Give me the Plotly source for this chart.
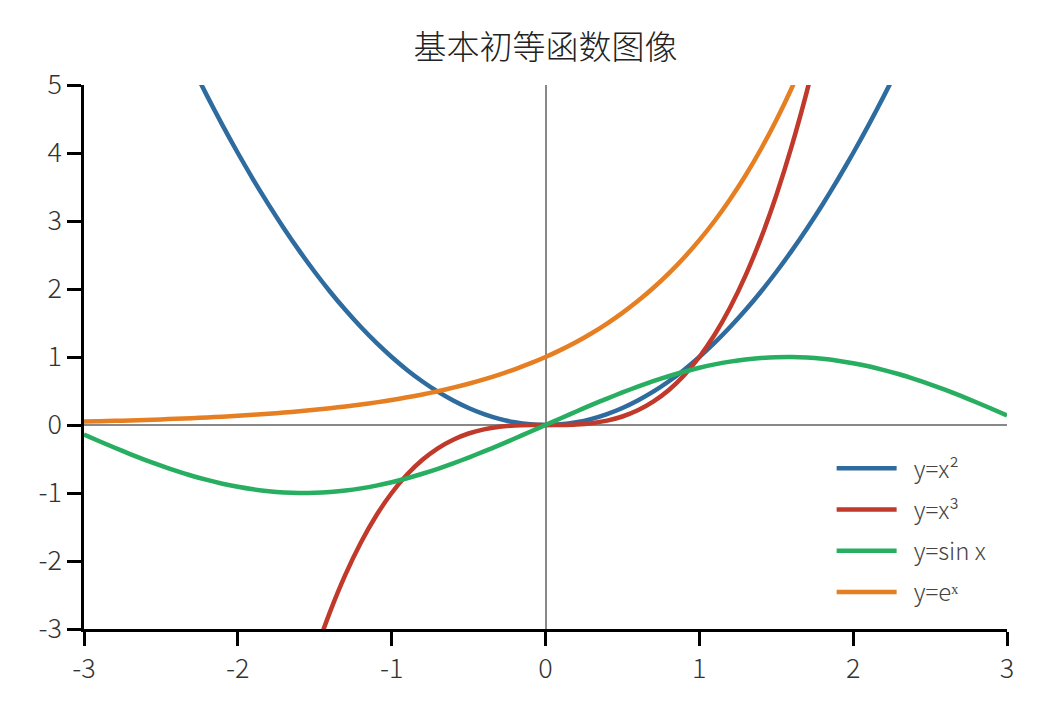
import plotly.graph_objects as go

x_vals = [-3.0, -2.9, -2.8, -2.7, -2.6, -2.5, -2.4, -2.3, -2.2, -2.1,
          -2.0, -1.9, -1.8, -1.7, -1.6, -1.5, -1.4, -1.3, -1.2, -1.1,
          -1.0, -0.9, -0.8, -0.7, -0.6, -0.5, -0.4, -0.3, -0.2, -0.1,
          0.0, 0.1, 0.2, 0.3, 0.4, 0.5, 0.6, 0.7, 0.8, 0.9,
          1.0, 1.1, 1.2, 1.3, 1.4, 1.5, 1.6, 1.7, 1.8, 1.9,
          2.0, 2.1, 2.2, 2.3, 2.4, 2.5, 2.6, 2.7, 2.8, 2.9, 3.0]

y_square = [9.00, 8.41, 7.84, 7.29, 6.76, 6.25, 5.76, 5.29, 4.84, 4.41,
            4.00, 3.61, 3.24, 2.89, 2.56, 2.25, 1.96, 1.69, 1.44, 1.21,
            1.00, 0.81, 0.64, 0.49, 0.36, 0.25, 0.16, 0.09, 0.04, 0.01,
            0.00, 0.01, 0.04, 0.09, 0.16, 0.25, 0.36, 0.49, 0.64, 0.81,
            1.00, 1.21, 1.44, 1.69, 1.96, 2.25, 2.56, 2.89, 3.24, 3.61,
            4.00, 4.41, 4.84, 5.29, 5.76, 6.25, 6.76, 7.29, 7.84, 8.41, 9.00]

y_cube = [-27.0, -24.389, -21.952, -19.683, -17.576, -15.625, -13.824, -12.167, -10.648, -9.261,
          -8.0, -6.859, -5.832, -4.913, -4.096, -3.375, -2.744, -2.197, -1.728, -1.331,
          -1.0, -0.729, -0.512, -0.343, -0.216, -0.125, -0.064, -0.027, -0.008, -0.001,
          0.0, 0.001, 0.008, 0.027, 0.064, 0.125, 0.216, 0.343, 0.512, 0.729,
          1.0, 1.331, 1.728, 2.197, 2.744, 3.375, 4.096, 4.913, 5.832, 6.859,
          8.0, 9.261, 10.648, 12.167, 13.824, 15.625, 17.576, 19.683, 21.952, 24.389, 27.0]

y_sin = [-0.141, -0.239, -0.335, -0.427, -0.516, -0.598, -0.675, -0.746, -0.808, -0.863,
         -0.909, -0.946, -0.974, -0.992, -1.000, -0.997, -0.985, -0.964, -0.932, -0.891,
         -0.841, -0.783, -0.717, -0.644, -0.565, -0.479, -0.389, -0.296, -0.199, -0.100,
         0.000, 0.100, 0.199, 0.296, 0.389, 0.479, 0.565, 0.644, 0.717, 0.783,
         0.841, 0.891, 0.932, 0.964, 0.985, 0.997, 1.000, 0.992, 0.974, 0.946,
         0.909, 0.863, 0.808, 0.746, 0.675, 0.598, 0.516, 0.427, 0.335, 0.239, 0.141]

y_exp = [0.050, 0.055, 0.061, 0.067, 0.074, 0.082, 0.091, 0.100, 0.111, 0.122,
         0.135, 0.150, 0.165, 0.183, 0.202, 0.223, 0.247, 0.273, 0.301, 0.333,
         0.368, 0.407, 0.449, 0.497, 0.549, 0.607, 0.670, 0.741, 0.819, 0.905,
         1.000, 1.105, 1.221, 1.350, 1.492, 1.649, 1.822, 2.014, 2.226, 2.460,
         2.718, 3.004, 3.320, 3.669, 4.055, 4.482, 4.953, 5.474, 6.050, 6.686,
         7.389, 8.166, 9.025, 9.974, 11.023, 12.182, 13.464, 14.880, 16.445, 18.174, 20.086]

series_names = ["y=x²", "y=x³", "y=sin x", "y=eˣ"]
series_colors = ["#2e6b9e", "#c0392b", "#27ae60", "#e67e22"]
series_values = [y_square, y_cube, y_sin, y_exp]

x_ticks = [-3, -2, -1, 0, 1, 2, 3]
x_tick_labels = ["-3", "-2", "-1", "0", "1", "2", "3"]
y_ticks = [-3, -2, -1, 0, 1, 2, 3, 4, 5]
y_tick_labels = ["-3", "-2", "-1", "0", "1", "2", "3", "4", "5"]

title_text = "基本初等函数图像"

FONT = "Noto Sans CJK SC Light, Noto Sans CJK SC DemiLight, Noto Sans CJK SC"

fig = go.Figure()
for i, (name, color, vals) in enumerate(zip(series_names, series_colors, series_values)):
    fig.add_trace(go.Scatter(
        x=x_vals, y=vals, mode="lines", name="\u2002" + name, legendgroup=f"g{i}",
        line=dict(color=color, width=4.5, shape="spline", smoothing=0.6),
    ))

axis_common = dict(
    showline=True, linecolor="black", linewidth=2.5,
    ticks="outside", ticklen=14, tickwidth=2.5, tickcolor="black",
    showgrid=False, zeroline=True, zerolinecolor="#888888", zerolinewidth=1.5,
    tickfont=dict(family=FONT, size=27, color="#333333", weight=300),
    mirror=False,
)

fig.update_layout(
    width=1044, height=717,
    margin=dict(l=76, r=45, t=77, b=96),
    paper_bgcolor="white", plot_bgcolor="white",
    font=dict(family=FONT, weight=300),
    title=dict(text=title_text, x=0.5, xref="paper", xanchor="center",
               y=1 - 39 / 717, yanchor="middle", yref="container",
               font=dict(family=FONT, size=33, color="#222222", weight=300)),
    xaxis=dict(range=[-3, 3], tickvals=x_ticks, ticktext=x_tick_labels, **axis_common),
    yaxis=dict(range=[-3, 5], tickvals=y_ticks, ticktext=y_tick_labels, **axis_common),
    legend=dict(x=0.81, xanchor="left", y=0.336, yanchor="top",
                bgcolor="rgba(0,0,0,0)", itemwidth=60, tracegroupgap=7,
                font=dict(family=FONT, size=24, color="#444444", weight=300)),
    showlegend=True,
)

fig.write_html("out.html")
